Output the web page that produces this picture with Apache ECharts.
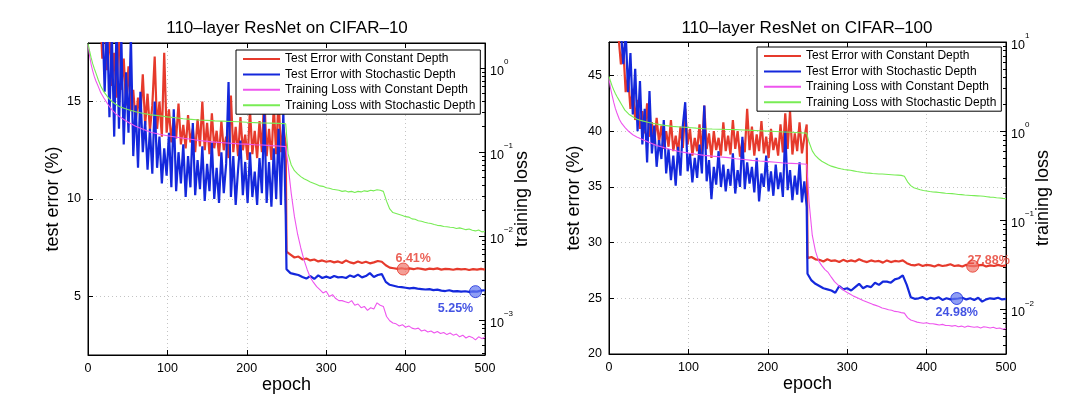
<!DOCTYPE html>
<html><head><meta charset="utf-8">
<script src="https://cdn.jsdelivr.net/npm/echarts@6/dist/echarts.min.js"></script>
<style>html,body{margin:0;padding:0;background:#fff}#c{width:1080px;height:407px}</style>
</head><body><div id="c"></div>
<script>
// ---------------- DATA ----------------
const seriesNames = ['Test Error with Constant Depth', 'Test Error with Stochastic Depth',
  'Training Loss with Constant Depth', 'Training Loss with Stochastic Depth'];
const panelTitles = ['110\u2013layer ResNet on CIFAR\u201310', '110\u2013layer ResNet on CIFAR\u2013100'];

// epochs: noisy phase (0..249 step 3), late phase (250..500 step 5), loss epochs
function range(a, b, s) { const r = []; for (let v = a; v <= b + 1e-9; v += s) r.push(v); return r; }
const epochsEarly = range(0, 249, 3);
const epochsLate = range(250, 500, 5);
const lossEpochs = [0,2,4,6,8,10,13,16,20,25,30,35,40,50,60,70,80,90,100,110,120,130,140,150,160,170,180,190,200,210,220,230,240,249].concat(range(252, 500, 4));

// CIFAR-10 test error (%)
const c10ErrConstEarly = [45,38,30,26,23,20,17.2,19.5,16.6,18.6,
  15.8,17.5,15.2,19,15.6,17.2,14.8,16.8,14.5,15.6,
  13.9,15.2,14.2,16.4,13.8,15.4,13.5,14.8,17.3,13.6,
  15,13.2,17.5,13.4,14.6,12.9,14.2,13.1,14.9,12.8,
  13.8,12.6,14.3,12.9,13.6,12.4,14.1,12.7,15,12.5,
  13.9,12.3,14.4,12.6,13.5,12.2,14.0,12.5,13.2,12.1,
  15.3,12.4,13.7,12.2,14.2,12.5,13.3,12.0,14.6,12.3,
  13.5,12.1,14.0,12.4,15.4,12.2,13.6,12.0,14.8,12.3,
  15.2,12.4,13.7,12.8];
const c10ErrStochEarly = [45,40,34,28,24,21,19.5,15.5,19.2,14.2,
  18.5,13.2,19,13.6,18.2,12.8,16.5,13.4,18.4,12.2,
  14.8,11.6,15.5,12.4,14,11.5,13.6,11.3,15,11.6,
  13.2,10.8,12.6,11.2,13.4,10.6,14.6,10.4,12.4,10.8,
  12.8,10.1,12.2,10.6,13.9,10.2,12,10.5,12.7,9.9,
  11.8,10.4,12.9,10,11.6,9.8,12.4,10.3,11.8,16,
  10.1,12.2,9.7,11.5,13,10.2,11.9,9.8,12.4,10.1,
  11.4,9.7,12.1,10.3,14.5,9.8,11.9,9.6,12.6,10,
  13.6,9.7,14.5,9.2];
const c10ErrConstLate = [7.3,7.15,7.0,7.05,6.9,6.95,6.85,6.9,6.8,6.85,
  6.78,6.82,6.75,6.8,6.72,6.85,6.75,6.7,6.8,6.72,
  6.78,6.7,6.75,6.82,6.78,6.6,6.48,6.45,6.42,6.45,
  6.41,6.44,6.4,6.45,6.42,6.38,6.43,6.4,6.44,6.38,
  6.42,6.4,6.37,6.42,6.39,6.41,6.36,6.4,6.38,6.42,
  6.38];
const c10ErrStochLate = [6.4,6.2,6.15,6.1,6.0,5.92,6.05,5.9,6.08,5.95,
  6.02,5.95,6.05,5.98,6.0,5.95,6.08,6.0,6.12,5.98,
  6.05,6.2,6.0,6.1,6.15,5.75,5.6,5.55,5.5,5.48,
  5.45,5.42,5.44,5.4,5.38,5.36,5.38,5.33,5.35,5.3,
  5.28,5.32,5.26,5.28,5.25,5.27,5.24,5.26,5.25,5.3,
  5.32];
// CIFAR-10 training loss
const c10LossConst = [1.9,1.4,1.1,0.92,0.79,0.7,0.6,0.51,0.44,0.37,
  0.32,0.285,0.262,0.228,0.203,0.185,0.171,0.163,0.156,0.151,
  0.146,0.142,0.137,0.134,0.131,0.129,0.127,0.125,0.124,0.122,
  0.121,0.119,0.118,0.116,
  0.07,0.032,0.017,0.0105,0.0072,0.0052,0.004,0.0032,0.0028,0.0025,
  0.0023,0.0021,0.0022,0.0019,0.002,0.0018,0.0017,0.0017,0.00165,0.0016,
  0.0017,0.0015,0.00155,0.0014,0.00145,0.0013,0.0014,0.00135,0.0016,0.0015,
  0.00145,0.0011,0.00098,0.00092,0.0009,0.00085,0.00088,0.00082,0.00085,0.0008,
  0.00078,0.0008,0.00074,0.00076,0.00072,0.00074,0.0007,0.00073,0.00069,0.00071,
  0.00067,0.0007,0.00066,0.00068,0.00063,0.00066,0.00061,0.00064,0.00062,0.00058,
  0.00063,0.0006,0.00062];
const c10LossStoch = [1.95,1.6,1.32,1.12,0.98,0.87,0.72,0.61,0.52,0.45,
  0.4,0.37,0.345,0.32,0.302,0.288,0.277,0.27,0.262,0.256,
  0.249,0.245,0.241,0.238,0.235,0.233,0.231,0.229,0.226,0.224,
  0.222,0.221,0.219,0.217,
  0.095,0.07,0.06,0.055,0.051,0.048,0.046,0.044,0.0425,0.041,
  0.0395,0.039,0.0375,0.037,0.036,0.0355,0.035,0.034,0.0345,0.0335,
  0.034,0.033,0.034,0.0335,0.0345,0.034,0.035,0.0345,0.0355,0.035,
  0.034,0.026,0.021,0.019,0.0185,0.018,0.0175,0.017,0.0168,0.016,
  0.0158,0.0152,0.015,0.0146,0.0143,0.0141,0.0137,0.0134,0.0133,0.013,
  0.0129,0.0127,0.0126,0.0123,0.0125,0.0122,0.0119,0.0121,0.0117,0.0115,
  0.0118,0.0112,0.0113];

// CIFAR-100 test error (%)
const c100ErrConstEarly = [60,55,52,50,48.5,46,47.5,43.5,45,42,
  43.8,41,42.8,40.2,41.8,39.8,42.5,39.5,40.8,38.8,
  41.2,39,40.5,38.4,40,38.6,41,38.2,39.6,38,
  40.4,38.5,42,38.8,40.2,37.8,39.4,38.2,40.6,38,
  42.3,38.4,39.8,37.6,40,38.3,39.4,37.8,40.8,38.2,
  39.6,37.9,41,38.4,40,37.7,39.2,38.1,42,38.3,
  40.4,37.8,39.7,38.2,40.9,38,39.5,37.6,40.2,38.3,
  39.4,37.8,40.6,38.1,41.6,38.4,41.8,37.9,39.8,38.2,
  40.8,38,39.4,40.6];
const c100ErrStochEarly = [60,56,54,52,50,49,46,49,43.5,47,
  41.5,45.6,40,44.5,38.8,42,37.2,43.6,38,40.5,
  36.8,39.2,37.5,41,36.2,38.4,35.6,37.8,35.1,38.6,
  36,40.5,42.6,36.4,38,35.4,37.6,35.8,38.8,36.2,
  42.3,35.5,37.4,33.9,36.8,35.2,38.2,35,37,34.6,
  36.6,35.1,38,34.4,36.5,35,39.5,34.8,37.2,35.3,
  36.8,34.5,37.6,33.7,36.2,35,37.8,34.6,36.4,34.2,
  37,34.8,36.3,34.1,40,34.7,36.5,33.8,36,34.3,
  37.2,33.6,35.5,33.2];
const c100ErrConstLate = [28.6,28.7,28.5,28.45,28.3,28.5,28.35,28.4,28.25,28.45,
  28.3,28.4,28.3,28.5,28.35,28.25,28.4,28.3,28.35,28.2,
  28.4,28.25,28.35,28.3,28.4,28.15,28.0,27.95,28.05,27.9,
  28.0,27.95,27.85,28.0,27.9,27.95,28.05,27.9,27.95,27.85,
  28.0,27.9,27.88,27.95,28.0,27.85,27.95,27.9,28.0,27.9,
  27.95];
const c100ErrStochLate = [27.2,26.6,26.3,26.1,25.9,25.8,25.7,25.5,26.1,25.8,
  25.9,25.7,26.0,26.3,25.9,26.1,26.0,26.4,26.2,26.5,
  26.5,26.4,26.7,26.8,27.05,26.2,25.1,24.95,25.0,25.1,
  24.9,25.05,24.95,25.1,24.85,25.0,24.9,24.95,24.98,25.05,
  24.9,25.0,24.85,25.05,24.7,24.9,25.0,24.95,25.05,24.9,
  24.95];
// CIFAR-100 training loss
const c100LossConst = [3.9,3.0,2.5,2.1,1.8,1.6,1.36,1.22,1.1,0.99,
  0.91,0.86,0.82,0.75,0.69,0.65,0.615,0.588,0.567,0.55,
  0.535,0.524,0.514,0.505,0.49,0.48,0.47,0.462,0.455,0.448,
  0.44,0.435,0.43,0.425,
  0.16,0.068,0.045,0.035,0.031,0.028,0.026,0.023,0.0205,0.019,
  0.0175,0.0163,0.0155,0.0148,0.0141,0.0136,0.0131,0.0126,0.0122,0.0118,
  0.0114,0.0111,0.0108,0.0104,0.0102,0.0099,0.0098,0.0095,0.0094,0.0092,
  0.0091,0.0081,0.0076,0.0074,0.0072,0.0071,0.007,0.0071,0.0069,0.0069,
  0.0068,0.0067,0.0068,0.0066,0.0066,0.0065,0.0066,0.0064,0.0065,0.0063,
  0.0065,0.0064,0.0063,0.0064,0.0062,0.0064,0.0063,0.0062,0.0063,0.0061,
  0.0062,0.006,0.0061];
const c100LossStoch = [4.1,3.6,3.2,2.9,2.65,2.45,2.2,1.98,1.72,1.55,
  1.45,1.37,1.32,1.25,1.2,1.16,1.13,1.115,1.1,1.08,
  1.065,1.055,1.05,1.045,1.04,1.03,1.02,1.01,1.0,0.99,
  0.98,0.97,0.96,0.95,
  0.75,0.6,0.53,0.49,0.46,0.44,0.42,0.405,0.395,0.385,
  0.378,0.372,0.368,0.364,0.358,0.352,0.348,0.343,0.34,0.338,
  0.335,0.333,0.331,0.33,0.328,0.326,0.324,0.322,0.321,0.319,
  0.312,0.27,0.245,0.232,0.226,0.22,0.216,0.213,0.21,0.208,
  0.207,0.205,0.203,0.201,0.2,0.199,0.197,0.195,0.194,0.192,
  0.191,0.19,0.189,0.188,0.187,0.186,0.184,0.182,0.181,0.179,
  0.178,0.176,0.175];

// highlighted final points [epoch, error]
const c10ConstMark = [397, 6.41];
const c10StochMark = [488, 5.25];
const c100ConstMark = [458, 27.88];
const c100StochMark = [438, 24.98];

// axes
const epochTicks = [0, 100, 200, 300, 400, 500];
const c10ErrRange = [2, 18];
const c10ErrTicks = [5, 10, 15];
const c100ErrRange = [20, 48];
const c100ErrTicks = [20, 25, 30, 35, 40, 45];
const c10LossRange = [3.83e-4, 1.986];
const c10LossDecades = [-3, -2, -1, 0];
const c100LossRange = [0.0031623, 10];
const c100LossDecades = [-2, -1, 0, 1];

// ---------------- CHART ----------------
const FONT = '"Liberation Sans", Arial, Helvetica, sans-serif';
const C_RED = '#e63a2c', C_BLUE = '#1428dc', C_MAG = '#ee55ee', C_GRN = '#78ec55';
const GRIDLINE = {color: '#c4c4c4', type: [1, 3], width: 1};

function pairs(xs, ys) { return ys.map((y, i) => [xs[i], y]); }
function minorLogTicks(rng) {
  const out = [];
  const lo = Math.log10(rng[0]), hi = Math.log10(rng[1]);
  for (let d = Math.floor(lo); d <= Math.ceil(hi); d++) {
    for (let k = 2; k <= 9; k++) {
      const v = Math.log10(k) + d;
      if (v > lo && v < hi) out.push(v);
    }
  }
  return out;
}
function supLabel(v) {
  const e = Math.round(v);
  return '{b|10}{s|' + (e < 0 ? '\u2212' + (-e) : e) + '}';
}

const grids = [
  {left: 88, right: 595, top: 43, bottom: 52},
  {left: 609, right: 74, top: 42, bottom: 53}
];
const panels = [
  {errRange: c10ErrRange, errTicks: c10ErrTicks, lossRange: c10LossRange, decades: c10LossDecades,
   errConst: c10ErrConstEarly.concat(c10ErrConstLate), errStoch: c10ErrStochEarly.concat(c10ErrStochLate),
   lossConst: c10LossConst, lossStoch: c10LossStoch,
   markConst: c10ConstMark, markStoch: c10StochMark,
   constLblOff: [10, 8], constLblPos: 'top', stochLblOff: [-20, -1], stochLblPos: 'bottom',
   legend: {left: 236, top: 50}, titleX: 287},
  {errRange: c100ErrRange, errTicks: c100ErrTicks, lossRange: c100LossRange, decades: c100LossDecades,
   errConst: c100ErrConstEarly.concat(c100ErrConstLate), errStoch: c100ErrStochEarly.concat(c100ErrStochLate),
   lossConst: c100LossConst, lossStoch: c100LossStoch,
   markConst: c100ConstMark, markStoch: c100StochMark,
   constLblOff: [16, 12], constLblPos: 'top', stochLblOff: [0, -4], stochLblPos: 'bottom',
   legend: {left: 757, top: 47}, titleX: 807}
];

const errEpochs = epochsEarly.concat(epochsLate);
const xAxis = [], yAxis = [], series = [], legend = [], graphic = [];
panels.forEach((p, gi) => {
  const xi = xAxis.length;
  xAxis.push({
    type: 'value', gridIndex: gi, min: 0, max: 500, interval: 100, position: 'bottom',
    axisLine: {show: true, onZero: false, lineStyle: {color: '#000', width: 1}},
    axisTick: {show: true, inside: true, length: 5, lineStyle: {color: '#000'}},
    axisLabel: {color: '#000', fontSize: 12.5, fontFamily: FONT, margin: 7},
    splitLine: {show: true, lineStyle: GRIDLINE},
    name: 'epoch', nameLocation: 'middle', nameGap: 21, nameMoveOverlap: false,
    nameTextStyle: {fontSize: 18, color: '#000', fontFamily: FONT}
  });
  xAxis.push({
    type: 'value', gridIndex: gi, min: 0, max: 500, interval: 100, position: 'top',
    axisLine: {show: true, onZero: false, lineStyle: {color: '#000', width: 1}},
    axisTick: {show: true, inside: true, length: 5, lineStyle: {color: '#000'}},
    axisLabel: {show: false}, splitLine: {show: false}
  });
  const yi = yAxis.length;
  yAxis.push({
    type: 'value', gridIndex: gi, min: p.errRange[0], max: p.errRange[1], position: 'left',
    axisLine: {show: true, onZero: false, lineStyle: {color: '#000', width: 1}},
    axisTick: {show: true, inside: true, length: 5, customValues: p.errTicks, lineStyle: {color: '#000'}},
    axisLabel: {color: '#000', fontSize: 12.5, fontFamily: FONT, margin: 7, customValues: p.errTicks},
    splitLine: {show: true, lineStyle: GRIDLINE},
    name: 'test error (%)', nameLocation: 'middle', nameGap: 26, nameRotate: 90, nameMoveOverlap: false,
    nameTextStyle: {fontSize: 18, color: '#000', fontFamily: FONT}
  });
  yAxis.push({
    type: 'log', logBase: 10, gridIndex: gi, min: p.lossRange[0], max: p.lossRange[1], position: 'right',
    show: false, axisLine: {onZero: false}, splitLine: {show: false}
  });
  const lo = Math.log10(p.lossRange[0]), hi = Math.log10(p.lossRange[1]);
  yAxis.push({
    type: 'value', gridIndex: gi, min: lo, max: hi, position: 'right',
    axisLine: {show: true, onZero: false, lineStyle: {color: '#000', width: 1}},
    axisTick: {show: true, inside: true, length: 6, customValues: p.decades, lineStyle: {color: '#000'}},
    axisLabel: {customValues: p.decades, formatter: supLabel, margin: 5,
      rich: {b: {fontSize: 12.5, fontFamily: FONT, color: '#000', verticalAlign: 'bottom', lineHeight: 20},
             s: {fontSize: 8, fontFamily: FONT, color: '#000', verticalAlign: 'top', lineHeight: 20}}},
    splitLine: {show: false},
    name: 'training loss', nameLocation: 'middle', nameGap: 28, nameRotate: 90, nameMoveOverlap: false,
    nameTextStyle: {fontSize: 18, color: '#000', fontFamily: FONT}
  });
  yAxis.push({
    type: 'value', gridIndex: gi, min: lo, max: hi, position: 'right',
    axisLine: {show: false, onZero: false},
    axisTick: {show: true, inside: true, length: 3, customValues: minorLogTicks(p.lossRange), lineStyle: {color: '#000'}},
    axisLabel: {show: false}, splitLine: {show: false}
  });

  series.push({name: seriesNames[0], type: 'line', xAxisIndex: xi, yAxisIndex: yi,
    data: pairs(errEpochs, p.errConst), symbol: 'none', clip: true,
    lineStyle: {color: C_RED, width: 2.2}, itemStyle: {color: C_RED}, z: 2});
  series.push({name: seriesNames[1], type: 'line', xAxisIndex: xi, yAxisIndex: yi,
    data: pairs(errEpochs, p.errStoch), symbol: 'none', clip: true,
    lineStyle: {color: C_BLUE, width: 2.2}, itemStyle: {color: C_BLUE}, z: 3});
  series.push({name: seriesNames[2], type: 'line', xAxisIndex: xi, yAxisIndex: yi + 1,
    data: pairs(lossEpochs, p.lossConst), symbol: 'none', clip: true,
    lineStyle: {color: C_MAG, width: 1.1}, itemStyle: {color: C_MAG}, z: 4});
  series.push({name: seriesNames[3], type: 'line', xAxisIndex: xi, yAxisIndex: yi + 1,
    data: pairs(lossEpochs, p.lossStoch), symbol: 'none', clip: true,
    lineStyle: {color: C_GRN, width: 1.1}, itemStyle: {color: C_GRN}, z: 5});
  series.push({type: 'scatter', xAxisIndex: xi, yAxisIndex: yi, data: [p.markConst], symbolSize: 12, z: 6,
    itemStyle: {color: 'rgba(240,120,110,0.9)', borderColor: C_RED, borderWidth: 1},
    label: {show: true, position: p.constLblPos, offset: p.constLblOff, formatter: () => p.markConst[1].toFixed(2) + '%',
      color: C_RED, fontWeight: 'bold', fontSize: 12.5, fontFamily: FONT}});
  series.push({type: 'scatter', xAxisIndex: xi, yAxisIndex: yi, data: [p.markStoch], symbolSize: 12, z: 6,
    itemStyle: {color: 'rgba(100,120,240,0.9)', borderColor: C_BLUE, borderWidth: 1},
    label: {show: true, position: p.stochLblPos, offset: p.stochLblOff, formatter: () => p.markStoch[1].toFixed(2) + '%',
      color: C_BLUE, fontWeight: 'bold', fontSize: 12.5, fontFamily: FONT}});

  legend.push({
    data: seriesNames, orient: 'vertical', left: p.legend.left, top: p.legend.top,
    backgroundColor: '#fff', borderColor: '#000', borderWidth: 1, borderRadius: 0,
    padding: [3, 5, 3, 6], itemWidth: 37, itemHeight: 11, itemGap: 3.4, selectedMode: false,
    itemStyle: {opacity: 0},
    textStyle: {fontSize: 12, color: '#000', fontFamily: FONT}, z: 10
  });
  graphic.push({type: 'text', x: p.titleX, y: 20, style: {text: panelTitles[gi], align: 'center',
    fontSize: 17, fontFamily: FONT, fill: '#000'}});
});

const chart = echarts.init(document.getElementById('c'));
chart.setOption({
  animation: false,
  backgroundColor: '#fff',
  grid: grids.map(g => Object.assign({show: true, borderColor: '#000', borderWidth: 1, backgroundColor: 'transparent'}, g)),
  xAxis, yAxis, series, legend, graphic
});
</script>
</body></html>
